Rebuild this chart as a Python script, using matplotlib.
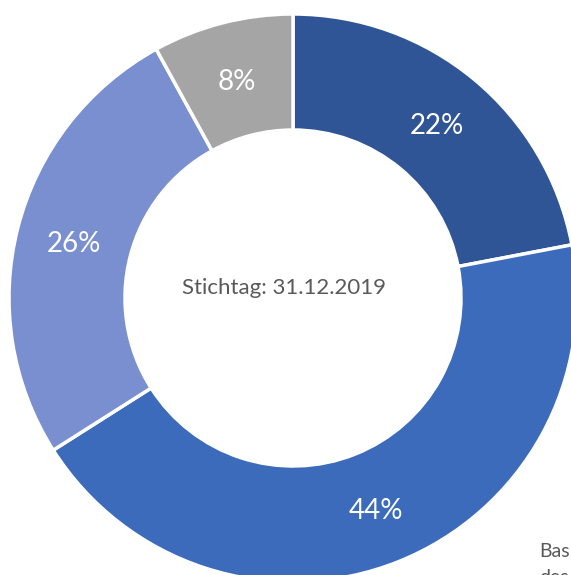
import matplotlib.pyplot as plt

shares = [22, 44, 26, 8]
colors = ['#2F5597', '#3D6BBB', '#7A8FCF', '#A5A5A5']
center_text = 'Stichtag: 31.12.2019'

plt.rcParams['font.family'] = ['Lato', 'DejaVu Sans']

fig = plt.figure(figsize=(5.71, 5.75), dpi=100)
ax = fig.add_axes([0, 0, 1, 1])

wedges, texts, autotexts = ax.pie(
    shares, colors=colors, startangle=90, counterclock=False,
    center=(293, 277), radius=284, frame=True,
    autopct='%d%%', pctdistance=0.796,
    wedgeprops=dict(width=116, edgecolor='white', linewidth=2.5),
    textprops=dict(color='white', fontsize=20))
for t in autotexts:
    t.set_va('center_baseline')

ax.set_xlim(0, 571)
ax.set_ylim(0, 575)
ax.set_aspect('equal')
ax.axis('off')

ax.text(284.5, 288.5, center_text, ha='center', va='center_baseline',
        fontsize=16, color='#595959')
ax.text(539, 18, 'Bas', ha='left', va='baseline', fontsize=14, color='#595959')
ax.text(539, -8, 'des', ha='left', va='baseline', fontsize=14, color='#595959')

fig.savefig('out.png', dpi=100)
